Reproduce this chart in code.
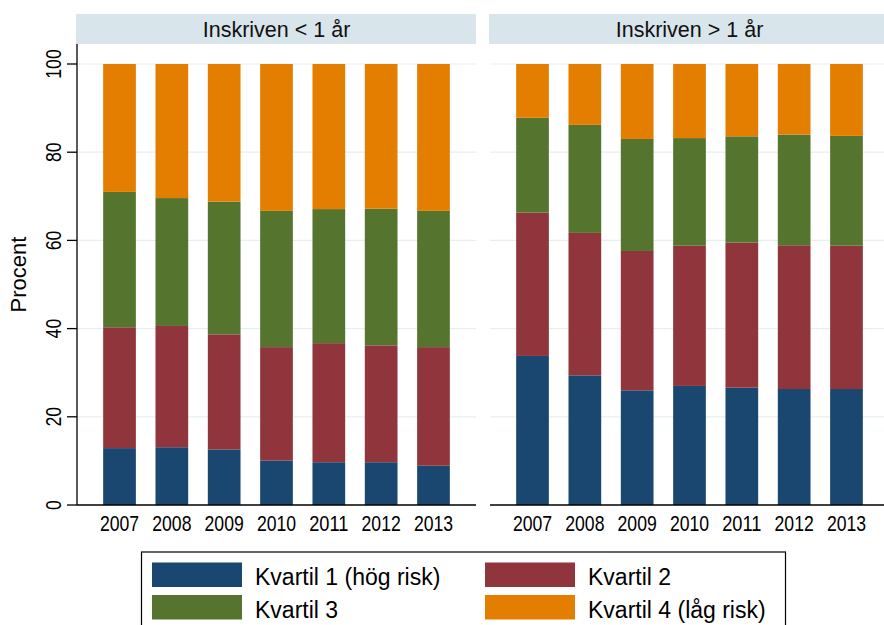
<!DOCTYPE html>
<html>
<head>
<meta charset="utf-8">
<script src="https://cdn.jsdelivr.net/npm/d3@7"></script>
<style>
  body { margin: 0; background: #fff; }
  svg { display: block; font-family: "Liberation Sans", Arial, sans-serif; }
</style>
</head>
<body>
<div id="chart"></div>
<script>
var years = ["2007", "2008", "2009", "2010", "2011", "2012", "2013"];
var panelTitles = ["Inskriven < 1 år", "Inskriven > 1 år"];
var quartileNames = ["Kvartil 1 (hög risk)", "Kvartil 2", "Kvartil 3", "Kvartil 4 (låg risk)"];
var yTicks = [0, 20, 40, 60, 80, 100];

// Inskriven < 1 år, percent per quartile
var lt1Kvartil1 = [12.9, 13.1, 12.6, 10.1, 9.7, 9.7, 8.9];
var lt1Kvartil2 = [27.4, 27.5, 26.1, 25.7, 27.0, 26.5, 26.9];
var lt1Kvartil3 = [30.7, 29.0, 30.1, 30.9, 30.4, 31.0, 30.9];
var lt1Kvartil4 = [29.0, 30.4, 31.2, 33.3, 32.9, 32.8, 33.3];

// Inskriven > 1 år
var gt1Kvartil1 = [33.8, 29.4, 26.0, 27.0, 26.6, 26.3, 26.3];
var gt1Kvartil2 = [32.5, 32.3, 31.6, 31.8, 32.9, 32.6, 32.5];
var gt1Kvartil3 = [21.5, 24.5, 25.4, 24.4, 24.1, 25.1, 24.9];
var gt1Kvartil4 = [12.2, 13.8, 17.0, 16.8, 16.4, 16.0, 16.3];

var colors = ["#1a476f", "#90353b", "#55752f", "#e37e00"];

var width = 884,
  height = 625;
var panelWidth = 399,
  panelLeft = [77, 490],
  stripTop = 14,
  stripHeight = 30,
  plotTop = 44,
  plotBottom = 505;

function buildRows(k1, k2, k3, k4) {
  return years.map(function(year, i) {
    return { year: year, k1: k1[i], k2: k2[i], k3: k3[i], k4: k4[i] };
  });
}

var panels = [
  { title: panelTitles[0], rows: buildRows(lt1Kvartil1, lt1Kvartil2, lt1Kvartil3, lt1Kvartil4) },
  { title: panelTitles[1], rows: buildRows(gt1Kvartil1, gt1Kvartil2, gt1Kvartil3, gt1Kvartil4) }
];

var keys = ["k1", "k2", "k3", "k4"];
var stack = d3.stack().keys(keys);

var x = d3
  .scaleBand()
  .domain(years)
  .range([0, panelWidth])
  .paddingInner(0.375)
  .paddingOuter(0.5);

var y = d3
  .scaleLinear()
  .domain([0, 100])
  .range([plotBottom, 64]);

var svg = d3
  .select("#chart")
  .append("svg")
  .attr("width", width)
  .attr("height", height);

// squeezed numeric labels, like the original renderer
function numLength(d) {
  return String(d).length * 9.8;
}

panels.forEach(function(panel, pi) {
  var g = svg
    .append("g")
    .attr("transform", "translate(" + panelLeft[pi] + ",0)");

  g.append("rect")
    .attr("x", -1)
    .attr("y", stripTop)
    .attr("width", panelWidth + 1)
    .attr("height", stripHeight)
    .attr("fill", "#d8e5ea");

  g.append("text")
    .attr("x", panelWidth / 2)
    .attr("y", stripTop + stripHeight / 2 + 7.5)
    .attr("text-anchor", "middle")
    .attr("font-size", "21.5px")
    .attr("fill", "#111")
    .text(panel.title);

  g.selectAll(".grid")
    .data(yTicks.slice(1))
    .enter()
    .append("line")
    .attr("class", "grid")
    .attr("x1", 0)
    .attr("x2", panelWidth)
    .attr("y1", function(d) {
      return y(d);
    })
    .attr("y2", function(d) {
      return y(d);
    })
    .attr("stroke", "#e6eff1")
    .attr("stroke-width", 1.2);

  var series = stack(panel.rows);

  g.selectAll(".series")
    .data(series)
    .enter()
    .append("g")
    .attr("class", "series")
    .attr("fill", function(d, i) {
      return colors[i];
    })
    .selectAll("rect")
    .data(function(d) {
      return d;
    })
    .enter()
    .append("rect")
    .attr("x", function(d) {
      return x(d.data.year);
    })
    .attr("width", x.bandwidth())
    .attr("y", function(d) {
      return y(d[1]);
    })
    .attr("height", function(d) {
      return y(d[0]) - y(d[1]);
    });

  // x axis
  g.append("line")
    .attr("x1", 0)
    .attr("x2", panelWidth)
    .attr("y1", plotBottom)
    .attr("y2", plotBottom)
    .attr("stroke", "#000")
    .attr("stroke-width", 1.3);

  g.selectAll(".year")
    .data(years)
    .enter()
    .append("text")
    .attr("class", "year")
    .attr("x", function(d) {
      return x(d) + x.bandwidth() / 2;
    })
    .attr("y", 531)
    .attr("text-anchor", "middle")
    .attr("font-size", "22px")
    .attr("textLength", numLength)
    .attr("lengthAdjust", "spacingAndGlyphs")
    .text(function(d) {
      return d;
    });

  if (pi === 0) {
    g.append("line")
      .attr("x1", 0)
      .attr("x2", 0)
      .attr("y1", plotTop)
      .attr("y2", plotBottom)
      .attr("stroke", "#000")
      .attr("stroke-width", 1.3);

    var ticks = g
      .selectAll(".ytick")
      .data(yTicks)
      .enter()
      .append("g")
      .attr("class", "ytick")
      .attr("transform", function(d) {
        return "translate(0," + y(d) + ")";
      });

    ticks
      .append("line")
      .attr("x1", -10)
      .attr("x2", 0)
      .attr("stroke", "#000")
      .attr("stroke-width", 1.3);

    ticks
      .append("text")
      .attr("transform", "translate(-16,0) rotate(-90)")
      .attr("text-anchor", "middle")
      .attr("font-size", "22px")
      .attr("textLength", numLength)
      .attr("lengthAdjust", "spacingAndGlyphs")
      .text(function(d) {
        return d;
      });
  }
});

svg
  .append("text")
  .attr("transform", "translate(26," + (plotTop + plotBottom) / 2 + ") rotate(-90)")
  .attr("text-anchor", "middle")
  .attr("font-size", "22px")
  .text("Procent");

// legend
var legend = svg.append("g").attr("class", "legend");

legend
  .append("rect")
  .attr("x", 141.5)
  .attr("y", 552)
  .attr("width", 644)
  .attr("height", 80)
  .attr("fill", "#fff")
  .attr("stroke", "#000")
  .attr("stroke-width", 1.2);

var legendItems = legend
  .selectAll(".legend-item")
  .data(quartileNames)
  .enter()
  .append("g")
  .attr("class", "legend-item")
  .attr("transform", function(d, i) {
    var col = i % 2,
      row = Math.floor(i / 2);
    return "translate(" + (152 + col * 333) + "," + (562.5 + row * 32.5) + ")";
  });

legendItems
  .append("rect")
  .attr("width", 90)
  .attr("height", 24.5)
  .attr("fill", function(d, i) {
    return colors[i];
  });

legendItems
  .append("text")
  .attr("x", 103)
  .attr("y", 22.5)
  .attr("font-size", "23px")
  .text(function(d) {
    return d;
  });
</script>
</body>
</html>
